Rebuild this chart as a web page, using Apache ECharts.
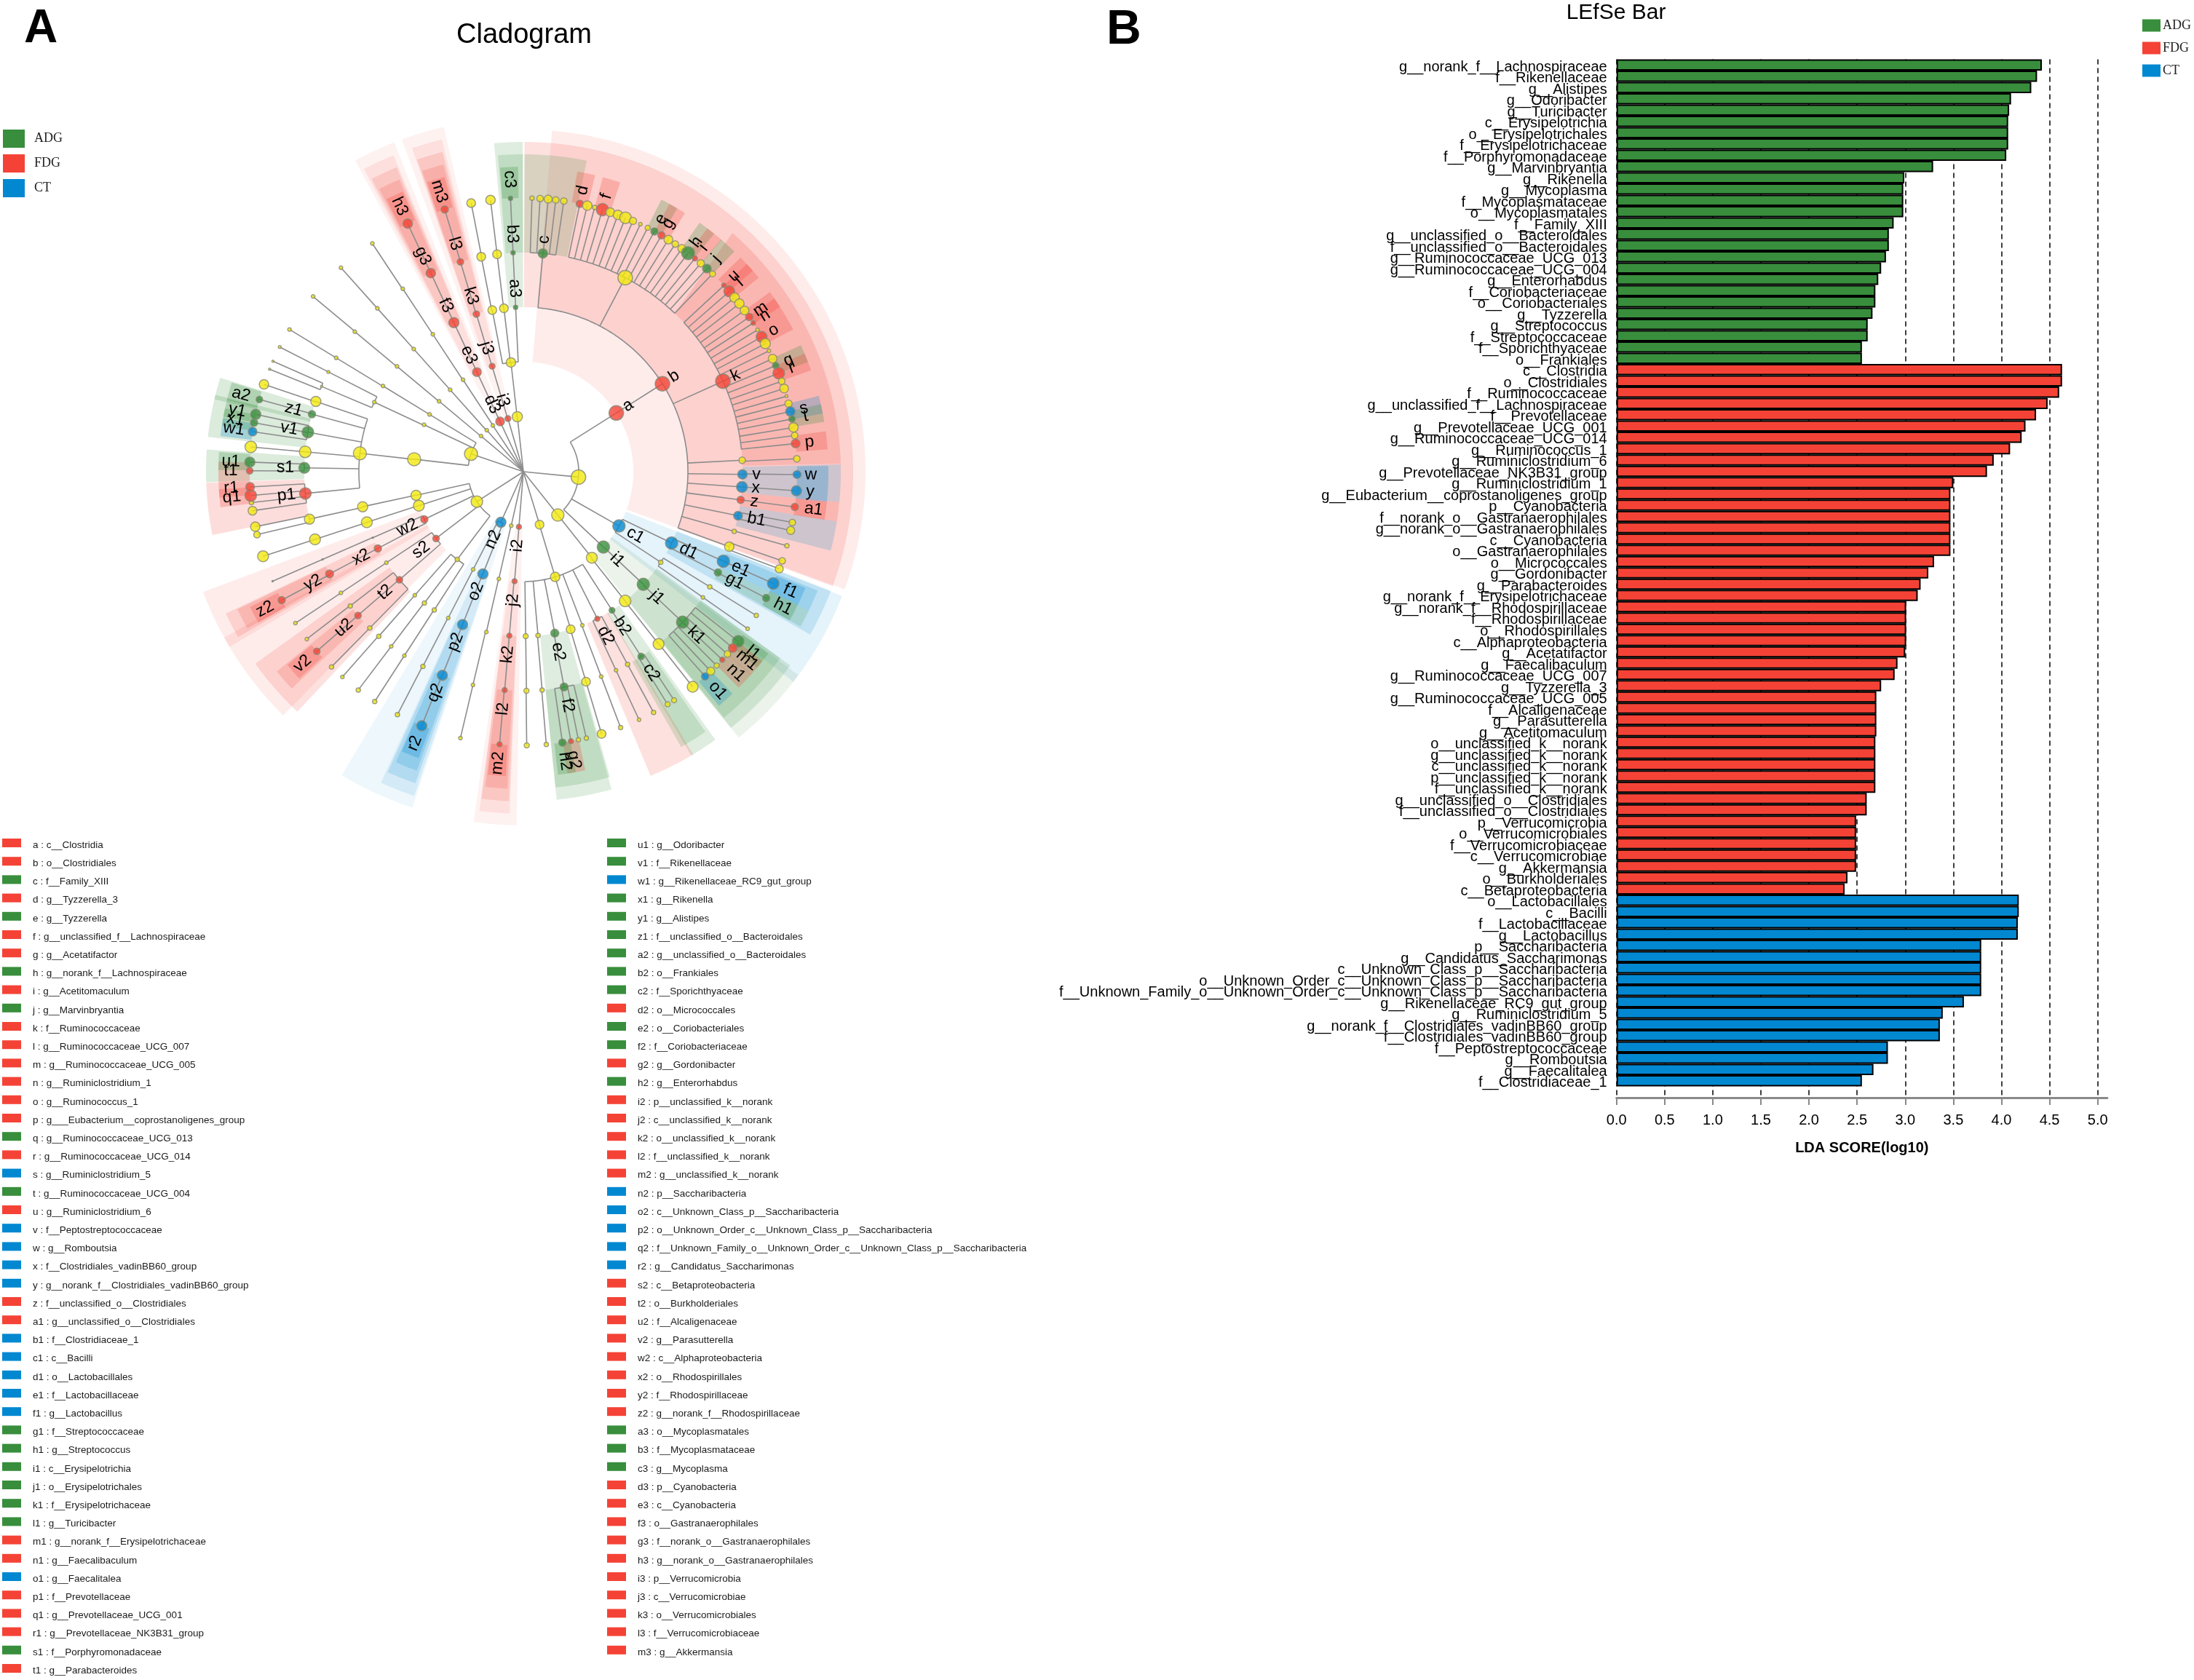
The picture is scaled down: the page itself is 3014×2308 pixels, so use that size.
<!DOCTYPE html>
<html><head><meta charset="utf-8">
<style>html,body{margin:0;padding:0;background:#fff}#c{width:3014px;height:2308px}</style>
<script src="https://cdn.jsdelivr.net/npm/echarts@6/dist/echarts.min.js"></script>
</head><body><div id="c"></div>
<script>
const groupNames = ['ADG','FDG','CT'];
const groupColors = {ADG:'#388E3C',FDG:'#F44336',CT:'#0288D1'};

// ---------- LEfSe bar ----------
const adgNames = ['g__norank_f__Lachnospiraceae','f__Rikenellaceae','g__Alistipes','g__Odoribacter','g__Turicibacter','c__Erysipelotrichia','o__Erysipelotrichales','f__Erysipelotrichaceae','f__Porphyromonadaceae','g__Marvinbryantia','g__Rikenella','g__Mycoplasma','f__Mycoplasmataceae','o__Mycoplasmatales','f__Family_XIII','g__unclassified_o__Bacteroidales','f__unclassified_o__Bacteroidales','g__Ruminococcaceae_UCG_013','g__Ruminococcaceae_UCG_004','g__Enterorhabdus','f__Coriobacteriaceae','o__Coriobacteriales','g__Tyzzerella','g__Streptococcus','f__Streptococcaceae','f__Sporichthyaceae','o__Frankiales'];
const adgValues = [4.42,4.37,4.31,4.10,4.08,4.07,4.07,4.07,4.05,3.29,2.99,2.98,2.98,2.98,2.88,2.83,2.83,2.80,2.75,2.72,2.69,2.69,2.66,2.61,2.61,2.55,2.55];
const fdgNames = ['c__Clostridia','o__Clostridiales','f__Ruminococcaceae','g__unclassified_f__Lachnospiraceae','f__Prevotellaceae','g__Prevotellaceae_UCG_001','g__Ruminococcaceae_UCG_014','g__Ruminococcus_1','g__Ruminiclostridium_6','g__Prevotellaceae_NK3B31_group','g__Ruminiclostridium_1','g__Eubacterium__coprostanoligenes_group','p__Cyanobacteria','f__norank_o__Gastranaerophilales','g__norank_o__Gastranaerophilales','c__Cyanobacteria','o__Gastranaerophilales','o__Micrococcales','g__Gordonibacter','g__Parabacteroides','g__norank_f__Erysipelotrichaceae','g__norank_f__Rhodospirillaceae','f__Rhodospirillaceae','o__Rhodospirillales','c__Alphaproteobacteria','g__Acetatifactor','g__Faecalibaculum','g__Ruminococcaceae_UCG_007','g__Tyzzerella_3','g__Ruminococcaceae_UCG_005','f__Alcaligenaceae','g__Parasutterella','g__Acetitomaculum','o__unclassified_k__norank','g__unclassified_k__norank','c__unclassified_k__norank','p__unclassified_k__norank','f__unclassified_k__norank','g__unclassified_o__Clostridiales','f__unclassified_o__Clostridiales','p__Verrucomicrobia','o__Verrucomicrobiales','f__Verrucomicrobiaceae','c__Verrucomicrobiae','g__Akkermansia','o__Burkholderiales','c__Betaproteobacteria'];
const fdgValues = [4.63,4.63,4.60,4.48,4.36,4.25,4.21,4.09,3.92,3.85,3.50,3.47,3.47,3.47,3.47,3.47,3.47,3.30,3.24,3.16,3.13,3.01,3.01,3.01,3.01,3.00,2.92,2.89,2.75,2.70,2.70,2.70,2.70,2.69,2.69,2.69,2.69,2.69,2.60,2.60,2.49,2.49,2.49,2.49,2.49,2.40,2.37];
const ctNames = ['o__Lactobacillales','c__Bacilli','f__Lactobacillaceae','g__Lactobacillus','p__Saccharibacteria','g__Candidatus_Saccharimonas','c__Unknown_Class_p__Saccharibacteria','o__Unknown_Order_c__Unknown_Class_p__Saccharibacteria','f__Unknown_Family_o__Unknown_Order_c__Unknown_Class_p__Saccharibacteria','g__Rikenellaceae_RC9_gut_group','g__Ruminiclostridium_5','g__norank_f__Clostridiales_vadinBB60_group','f__Clostridiales_vadinBB60_group','f__Peptostreptococcaceae','g__Romboutsia','g__Faecalitalea','f__Clostridiaceae_1'];
const ctValues = [4.18,4.18,4.17,4.17,3.79,3.79,3.79,3.79,3.79,3.61,3.39,3.36,3.36,2.82,2.82,2.67,2.55];

// ---------- Cladogram key (two columns) ----------
const keyColumn1 = [['a','c__Clostridia','r'],['b','o__Clostridiales','r'],['c','f__Family_XIII','g'],['d','g__Tyzzerella_3','r'],['e','g__Tyzzerella','g'],['f','g__unclassified_f__Lachnospiraceae','r'],['g','g__Acetatifactor','r'],['h','g__norank_f__Lachnospiraceae','g'],['i','g__Acetitomaculum','r'],['j','g__Marvinbryantia','g'],['k','f__Ruminococcaceae','r'],['l','g__Ruminococcaceae_UCG_007','r'],['m','g__Ruminococcaceae_UCG_005','r'],['n','g__Ruminiclostridium_1','r'],['o','g__Ruminococcus_1','r'],['p','g___Eubacterium__coprostanoligenes_group','r'],['q','g__Ruminococcaceae_UCG_013','g'],['r','g__Ruminococcaceae_UCG_014','r'],['s','g__Ruminiclostridium_5','b'],['t','g__Ruminococcaceae_UCG_004','g'],['u','g__Ruminiclostridium_6','r'],['v','f__Peptostreptococcaceae','b'],['w','g__Romboutsia','b'],['x','f__Clostridiales_vadinBB60_group','b'],['y','g__norank_f__Clostridiales_vadinBB60_group','b'],['z','f__unclassified_o__Clostridiales','r'],['a1','g__unclassified_o__Clostridiales','r'],['b1','f__Clostridiaceae_1','b'],['c1','c__Bacilli','b'],['d1','o__Lactobacillales','b'],['e1','f__Lactobacillaceae','b'],['f1','g__Lactobacillus','b'],['g1','f__Streptococcaceae','g'],['h1','g__Streptococcus','g'],['i1','c__Erysipelotrichia','g'],['j1','o__Erysipelotrichales','g'],['k1','f__Erysipelotrichaceae','g'],['l1','g__Turicibacter','g'],['m1','g__norank_f__Erysipelotrichaceae','r'],['n1','g__Faecalibaculum','r'],['o1','g__Faecalitalea','b'],['p1','f__Prevotellaceae','r'],['q1','g__Prevotellaceae_UCG_001','r'],['r1','g__Prevotellaceae_NK3B31_group','r'],['s1','f__Porphyromonadaceae','g'],['t1','g__Parabacteroides','r']];
const keyColumn2 = [['u1','g__Odoribacter','g'],['v1','f__Rikenellaceae','g'],['w1','g__Rikenellaceae_RC9_gut_group','b'],['x1','g__Rikenella','g'],['y1','g__Alistipes','g'],['z1','f__unclassified_o__Bacteroidales','g'],['a2','g__unclassified_o__Bacteroidales','g'],['b2','o__Frankiales','g'],['c2','f__Sporichthyaceae','g'],['d2','o__Micrococcales','r'],['e2','o__Coriobacteriales','g'],['f2','f__Coriobacteriaceae','g'],['g2','g__Gordonibacter','r'],['h2','g__Enterorhabdus','g'],['i2','p__unclassified_k__norank','r'],['j2','c__unclassified_k__norank','r'],['k2','o__unclassified_k__norank','r'],['l2','f__unclassified_k__norank','r'],['m2','g__unclassified_k__norank','r'],['n2','p__Saccharibacteria','b'],['o2','c__Unknown_Class_p__Saccharibacteria','b'],['p2','o__Unknown_Order_c__Unknown_Class_p__Saccharibacteria','b'],['q2','f__Unknown_Family_o__Unknown_Order_c__Unknown_Class_p__Saccharibacteria','b'],['r2','g__Candidatus_Saccharimonas','b'],['s2','c__Betaproteobacteria','r'],['t2','o__Burkholderiales','r'],['u2','f__Alcaligenaceae','r'],['v2','g__Parasutterella','r'],['w2','c__Alphaproteobacteria','r'],['x2','o__Rhodospirillales','r'],['y2','f__Rhodospirillaceae','r'],['z2','g__norank_f__Rhodospirillaceae','r'],['a3','o__Mycoplasmatales','g'],['b3','f__Mycoplasmataceae','g'],['c3','g__Mycoplasma','g'],['d3','p__Cyanobacteria','r'],['e3','c__Cyanobacteria','r'],['f3','o__Gastranaerophilales','r'],['g3','f__norank_o__Gastranaerophilales','r'],['h3','g__norank_o__Gastranaerophilales','r'],['i3','p__Verrucomicrobia','r'],['j3','c__Verrucomicrobiae','r'],['k3','o__Verrucomicrobiales','r'],['l3','f__Verrucomicrobiaceae','r'],['m3','g__Akkermansia','r']];

// ---------- Cladogram tree: depth-first rows [label, level, angle (deg clockwise from top), diameter, colour] ----------
const levelRadius = [0,76,151,226,301,376];
const treeRows = [
['',1,95.6,20,'y'],['a',2,57.7,20,'r'],['b',3,57.7,20,'r'],
['c',4,5.1,13,'g'],['',5,1.8,6,'y'],['',5,3.5,9,'y'],['',5,5.2,11,'y'],['',5,6.8,9,'y'],['',5,8.5,9,'y'],
['',4,27.7,20,'y'],['d',5,11.9,10,'r'],['',5,13.5,13,'y'],['',5,15.1,6,'y'],['f',5,16.8,17,'r'],['',5,18.5,12,'y'],['',5,20.2,13,'y'],['',5,21.9,16,'y'],['',5,23.6,10,'y'],['',5,25.3,5,'y'],['',5,27,7,'y'],['e',5,28.6,10,'g'],['g',5,30.3,10,'r'],['',5,32,12,'y'],['',5,33.7,9,'y'],['',5,35.4,11,'y'],['h',5,37,18,'g'],['i',5,38.8,7,'r'],['',5,40.4,10,'y'],['j',5,42.1,12,'g'],['',5,43.7,8,'y'],
['k',4,65.6,20,'r'],['u',5,47.1,6,'r'],['l',5,48.8,15,'r'],['',5,50.5,13,'y'],['',5,52.1,13,'y'],['',5,53.9,12,'y'],['m',5,55.6,10,'r'],['n',5,57.1,6,'r'],['',5,58.8,5,'y'],['o',5,60.5,15,'r'],['',5,62.1,14,'y'],['',5,63.8,5,'y'],['',5,65.6,12,'y'],['q',5,67.2,9,'g'],['r',5,68.9,16,'r'],['',5,70.7,9,'y'],['',5,72.3,12,'y'],['',5,74,4,'y'],['',5,75.6,10,'y'],['s',5,77.3,13,'b'],['t',5,78.9,9,'g'],['',5,80.7,13,'y'],['',5,82.4,9,'y'],['p',5,84.1,12,'r'],
['',4,87,9,'y'],['',5,87.3,9,'y'],
['v',4,90.7,13,'b'],['w',5,90.6,11,'b'],
['x',4,94,15,'b'],['y',5,94,14,'b'],
['z',4,97.4,10,'r'],['a1',5,97.4,10,'r'],
['b1',4,101.6,12,'b'],['',5,100.7,9,'y'],['',5,102.4,11,'y'],
['',4,105.8,6,'y'],['',5,105.7,6,'y'],
['',4,110,13,'y'],['',5,109,9,'y'],['',5,110.8,11,'y'],
['c1',2,119.6,17,'b'],['d1',3,115.7,17,'b'],['e1',4,114.1,17,'b'],['f1',5,114.1,16,'b'],['g1',4,117.4,10,'g'],['h1',5,117.5,10,'g'],
['',3,123.4,6,'y'],['',4,121.7,6,'y'],['',5,121.7,6,'y'],['',4,125,5,'y'],['',5,125,5,'y'],
['i1',2,133.3,17,'g'],['j1',3,133.2,17,'g'],['k1',4,133.4,17,'g'],['l1',5,128.3,16,'g'],['m1',5,130.1,12,'r'],['',5,131.8,9,'y'],['n1',5,133.4,7,'r'],['',5,135.1,7,'y'],['',5,136.8,11,'y'],['o1',5,138.4,10,'b'],
['',1,141.5,17,'y'],['',2,141.5,15,'y'],['',3,141.8,16,'y'],['',4,141.9,15,'y'],['',5,141.8,15,'y'],
['',1,163,12,'y'],['',2,163.2,13,'y'],
['b2',3,147.4,8,'g'],['c2',4,147.5,9,'g'],['',5,146.6,7,'y'],['',5,148.2,7,'y'],
['d2',3,153.3,7,'r'],['',4,151.6,6,'y'],['',5,151.6,6,'y'],['',4,155,5,'y'],['',5,155,5,'y'],
['',3,159,5,'y'],['',4,159.2,5,'y'],['',5,159.2,6,'y'],
['',3,163.3,12,'y'],['',4,163.4,12,'y'],['',5,163.4,12,'y'],
['e2',3,169,11,'g'],['f2',4,169.3,11,'g'],['',5,166.7,6,'y'],['',5,168.4,6,'y'],['g2',5,170,7,'r'],['h2',5,171.8,10,'g'],
['',3,174.9,6,'y'],['',4,175.1,6,'y'],['',5,175.2,6,'y'],
['',3,179.2,7,'y'],['',4,179.2,7,'y'],['',5,179.3,7,'y'],
['i2',1,184.6,7,'r'],['j2',2,184.6,7,'r'],['k2',3,184.9,7,'r'],['l2',4,184.9,7,'r'],['m2',5,185,7,'r'],
['',1,192.7,5,'y'],['',2,192.9,5,'y'],['',3,193,5,'y'],['',4,193.3,5,'y'],['',5,193.3,5,'y'],
['n2',1,204,14,'b'],['o2',2,201.6,14,'b'],['p2',3,201.7,14,'b'],['q2',4,201.7,14,'b'],['r2',5,201.8,14,'b'],
['',2,207.2,5,'y'],['',3,207.2,5,'y'],['',4,207.3,6,'y'],['',5,207.4,6,'y'],
['',1,237.2,16,'y'],
['',2,217,6,'y'],['',3,212.8,6,'y'],['',4,212.9,5,'y'],['',5,212.9,6,'y'],['',3,217,6,'y'],['',4,217.1,5,'y'],['',5,217.1,6,'y'],['',3,221.3,5,'y'],['',4,221.3,6,'y'],['',5,221.4,5,'y'],
['s2',2,232.6,9,'r'],['t2',3,228.9,9,'r'],['',4,224.5,6,'y'],['',5,224.5,6,'y'],['u2',4,229,9,'r'],['v2',5,229,9,'r'],['',4,232.2,6,'y'],['',5,232.3,5,'y'],
['',3,236.4,5,'y'],['',4,236.4,5,'y'],['',5,236.4,5,'y'],
['w2',2,244.3,10,'r'],['x2',3,242.2,10,'r'],['y2',4,242.2,11,'r'],['z2',5,242,10,'r'],['',3,246.3,2,'x'],['',4,246.4,2,'x'],['',5,246.4,2,'x'],
['',2,252,15,'y'],['',3,252.1,15,'y'],['',4,252,15,'y'],['',5,252,15,'y'],
['',2,257.6,14,'y'],['',3,257.7,14,'y'],['',4,257.5,14,'y'],['',5,258.4,13,'y'],['',5,256.7,9,'y'],
['',1,288.8,18,'y'],['',2,276.5,18,'y'],['',3,276.4,18,'y'],
['p1',4,264.3,16,'r'],['',5,261.8,12,'y'],['',5,263.5,6,'y'],['q1',5,265,16,'r'],['r1',5,266.8,12,'r'],
['s1',4,271,15,'g'],['t1',5,270.2,9,'r'],['u1',5,272,14,'g'],
['',4,275.2,16,'y'],['',5,275.2,16,'y'],
['v1',4,280.4,16,'g'],['w1',5,278.4,12,'b'],['x1',5,280.3,10,'g'],['y1',5,282.1,14,'g'],
['z1',4,285.2,10,'g'],['a2',5,285.3,9,'g'],
['',4,288.7,14,'y'],['',5,288.6,13,'y'],
['',2,295.3,5,'y'],['',3,295,5,'y'],['',4,292.9,3,'y'],['',5,292,3,'y'],['',5,293.8,3,'y'],['',4,297.1,4,'y'],['',5,297.1,4,'y'],
['',2,301.4,5,'y'],['',3,301.4,5,'y'],['',4,301.3,5,'y'],['',5,301.3,5,'y'],
['',1,310.1,5,'y'],['',2,309.9,5,'y'],['',3,309.8,5,'y'],['',4,309.7,5,'y'],['',5,309.8,5,'y'],
['',1,318.6,5,'y'],['',2,318.2,5,'y'],['',3,318.2,5,'y'],['',4,318.2,5,'y'],['',5,318.2,5,'y'],
['',1,326.5,5,'y'],['',2,326.7,5,'y'],['',3,326.6,5,'y'],['',4,326.6,5,'y'],['',5,326.5,5,'y'],
['d3',1,335.1,12,'r'],['e3',2,335,12,'r'],['f3',3,335,14,'r'],['g3',4,335,13,'r'],['h3',5,335,13,'r'],
['i3',1,343.8,8,'r'],['j3',2,343.5,8,'r'],['k3',3,343.4,9,'r'],['l3',4,343.3,9,'r'],['m3',5,343.3,10,'r'],
['',1,353.7,14,'y'],['',2,353.5,13,'y'],
['',3,349.1,12,'y'],['',4,348.9,12,'y'],['',5,349,12,'y'],
['',3,353.2,12,'y'],['',4,353.1,12,'y'],['',5,353.1,13,'y'],
['a3',3,357.3,6,'g'],['b3',4,357.3,6,'g'],['c3',5,357.3,6,'g']
];
// Clade shading spans: [label, startAngle, endAngle, (outer-edge start, outer-edge end)]
const shadeSpans = [['a',4.8,110.1],['b',0.2,110.3],['c',0.2,11.5],['k',43.7,88.5,41.2,88.6],['v',88.7,92.1],['x',92.1,95.5],['z',95.5,99],['b1',99,104.4],
['c1',111.3,127.9],['d1',111.2,119.6],['e1',112,116],['g1',116,119.2],['i1',126.5,141],['j1',126,141],['k1',126,140.8],
['b2',144.4,149.4],['c2',145,150.2],['d2',149,157.3],['e2',164.5,174.2],['f2',164.2,174.2],
['i2',181.1,188.1],['j2',182.3,187.4],['k2',182.5,187.3],['l2',182.9,186.9],
['n2',198.3,210.9],['o2',198.6,204.6],['p2',199.1,204.3],['q2',199.6,203.7],
['s2',224.6,241],['t2',223.3,234.4],['u2',226.9,231],['w2',239.2,249.4],['x2',239.9,244.5],['y2',240.4,244.3],
['p1',258.5,268],['s1',268.1,274],['v1',276.3,284],['z1',283.2,287.2],
['d3',331.6,338.6],['e3',332.2,337.7],['f3',332.6,337.4],['g3',333,337],
['i3',339.9,347],['j3',341,346.2],['k3',341.2,345.8],['l3',341.4,345.4],
['a3',354.9,359.9],['b3',355.4,359.9]];
const shadeOuter = [0,486,470,453,436,419];
const shadeAlpha = [0,0.07,0.1,0.16,0.18,0.26];
const genusHalfSpan = 1.7;

const nodeColor = {y:'#F3E80C',r:groupColors.FDG,g:groupColors.ADG,b:groupColors.CT,x:'#777777'};

// ---------- derive tree ----------
const nodes = []; const lastAt = [{level:0,r:0,children:[]}];
treeRows.forEach(function(t){
  const n = {label:t[0],level:t[1],angle:t[2],size:t[3],col:t[4],r:levelRadius[t[1]],children:[]};
  lastAt[t[1]-1].children.push(n); lastAt[t[1]] = n; n.parent = lastAt[t[1]-1]; nodes.push(n);
});
const branchSegments = [];
nodes.forEach(function(n){ branchSegments.push([n.parent.r,n.angle,n.r,n.angle]); });
nodes.forEach(function(n){
  if(n.children.length>1){
    const as = n.children.map(function(c){return c.angle;});
    branchSegments.push([n.r,Math.min.apply(null,as),n.r,Math.max.apply(null,as)]);
  }
});
const byLabel = {}; nodes.forEach(function(n){ if(n.label) byLabel[n.label]=n; });
const shadeRows = shadeSpans.map(function(s){
  const n = byLabel[s[0]];
  return {v:[n.r,shadeOuter[n.level],s[1],s[2],s[3]===undefined?s[1]:s[3],s[4]===undefined?s[2]:s[4]],col:nodeColor[n.col],a:shadeAlpha[n.level],level:n.level};
});
nodes.forEach(function(n){
  if(n.label && n.level===5){
    shadeRows.push({v:[n.r,shadeOuter[5],n.angle-genusHalfSpan,n.angle+genusHalfSpan,n.angle-genusHalfSpan,n.angle+genusHalfSpan],col:nodeColor[n.col],a:shadeAlpha[5],level:5});
  }
});
shadeRows.sort(function(p,q){return p.level-q.level;});
const labelled = nodes.filter(function(n){return n.label;});

function rgba(hex,a){const v=parseInt(hex.slice(1),16);return 'rgba('+(v>>16)+','+((v>>8)&255)+','+(v&255)+','+a+')';}

// ---------- key graphics ----------
const keyGraphic = [];
[[keyColumn1,3,26,45],[keyColumn2,834,26,876]].forEach(function(col){
  col[0].forEach(function(row,i){
    const y = 1152 + i*25.2;
    keyGraphic.push({type:'rect',left:col[1],top:y,shape:{width:col[2],height:12},style:{fill:nodeColor[row[2]]}});
    keyGraphic.push({type:'text',x:col[3],y:y+9,style:{text:row[0]+' : '+row[1],fontFamily:'"Liberation Sans"',fontSize:13.5,fill:'#1a1a1a',verticalAlign:'middle',align:'left'}});
  });
});

const allNames = adgNames.concat(fdgNames,ctNames,['']);
function pad(vals,before,total){const a=[];for(let i=0;i<total;i++){const j=i-before;a.push(j>=0&&j<vals.length?vals[j]:null);}return a;}
const total = allNames.length;
const barStyle = function(name){return {color:groupColors[name],borderColor:'#000',borderWidth:2};};

const chart = echarts.init(document.getElementById('c'),null,{renderer:'canvas'});
chart.setOption({
  animation:false,
  backgroundColor:'#fff',
  title:[
    {text:'A',left:33,top:8,padding:0,textStyle:{fontFamily:'"Liberation Sans"',fontWeight:'bold',fontSize:64,color:'#000'}},
    {text:'B',left:1520,top:9,padding:0,textStyle:{fontFamily:'"Liberation Sans"',fontWeight:'bold',fontSize:66,color:'#000'}},
    {text:'Cladogram',left:720,top:30,padding:0,textAlign:'center',textStyle:{fontFamily:'"Liberation Sans"',fontWeight:'normal',fontSize:38,color:'#000'}},
    {text:'LEfSe Bar',left:2220,top:3,padding:0,textAlign:'center',textStyle:{fontFamily:'"Liberation Sans"',fontWeight:'normal',fontSize:30,color:'#000'}}
  ],
  legend:[
    {data:groupNames,left:4,top:178,orient:'vertical',itemWidth:30,itemHeight:25,itemGap:9,padding:0,icon:'rect',selectedMode:false,itemStyle:{borderWidth:0},textStyle:{fontFamily:'"Liberation Serif"',fontSize:18,color:'#222',padding:[0,0,0,8]}},
    {data:groupNames,left:2943,top:26,orient:'vertical',itemWidth:25,itemHeight:17,itemGap:13,padding:0,icon:'rect',selectedMode:false,itemStyle:{borderWidth:0},textStyle:{fontFamily:'"Liberation Serif"',fontSize:18,color:'#222',padding:[0,0,0,-2]}}
  ],
  grid:{left:2220.7,top:81.4,width:674.2,bottom:800,containLabel:false},
  xAxis:{type:'value',min:0,max:5.1,interval:0.5,position:'bottom',
    axisLine:{show:true,lineStyle:{color:'#8a8a8a',width:3}},
    axisTick:{show:true,length:10,lineStyle:{color:'#8a8a8a',width:2}},
    axisLabel:{margin:21,showMaxLabel:false,fontFamily:'"Liberation Sans"',fontSize:20,color:'#000',formatter:function(v){return v.toFixed(1);}},
    splitLine:{show:true,showMaxLine:false,lineStyle:{color:'#000',width:1.5,type:[7,5]}},
    name:'LDA SCORE(log10)',nameLocation:'middle',nameGap:59,nameTextStyle:{fontFamily:'"Liberation Sans"',fontWeight:'bold',fontSize:20,color:'#000',verticalAlign:'top'}},
  yAxis:{type:'category',inverse:true,data:allNames,axisLine:{show:false},axisTick:{show:false},splitLine:{show:false},
    axisLabel:{interval:0,margin:13,verticalAlign:'top',lineHeight:6,fontFamily:'"Liberation Sans"',fontSize:20,color:'#000'}},
  polar:{center:[719,648],radius:500},
  radiusAxis:{type:'value',min:0,max:500,show:false},
  angleAxis:{type:'value',min:0,max:360,startAngle:90,clockwise:true,show:false},
  graphic:{elements:keyGraphic},
  series:[
    {name:'ADG',type:'bar',stack:'s',barCategoryGap:0,itemStyle:barStyle('ADG'),data:pad(adgValues,0,total),xAxisIndex:0,yAxisIndex:0},
    {name:'FDG',type:'bar',stack:'s',barCategoryGap:0,itemStyle:barStyle('FDG'),data:pad(fdgValues,adgValues.length,total)},
    {name:'CT',type:'bar',stack:'s',barCategoryGap:0,itemStyle:barStyle('CT'),data:pad(ctValues,adgValues.length+fdgValues.length,total)},
    {type:'custom',coordinateSystem:'polar',silent:true,z:1,clip:false,data:shadeRows.map(function(s){return s.v;}),
      renderItem:function(p,api){
        const s=shadeRows[p.dataIndex]; const r0=api.value(0),r1=api.value(1),a0=api.value(2),a1=api.value(3),o0=api.value(4),o1=api.value(5);
        const pts=[]; const n=Math.max(2,Math.ceil(Math.abs(a1-a0)/0.5));
        for(let i=0;i<=n;i++) pts.push(api.coord([r1,o0+(o1-o0)*i/n]));
        for(let i=n;i>=0;i--) pts.push(api.coord([r0,a0+(a1-a0)*i/n]));
        return {type:'polygon',shape:{points:pts},style:{fill:rgba(s.col,s.a)}};
      }},
    {type:'custom',coordinateSystem:'polar',silent:true,z:2,clip:false,data:branchSegments,
      renderItem:function(p,api){
        const r0=api.value(0),a0=api.value(1),r1=api.value(2),a1=api.value(3);
        const pts=[]; const n=Math.max(1,Math.ceil(Math.abs(a1-a0)/0.5));
        for(let i=0;i<=n;i++) pts.push(api.coord([r0+(r1-r0)*i/n,a0+(a1-a0)*i/n]));
        return {type:'polyline',shape:{points:pts},style:{fill:null,stroke:'#8c8c8c',lineWidth:1.6}};
      }},
    {type:'scatter',coordinateSystem:'polar',silent:true,z:3,clip:false,
      data:nodes.map(function(n){return {value:[n.r,n.angle],symbolSize:n.size,itemStyle:{color:nodeColor[n.col],borderColor:'#888878',borderWidth:1.5}};})},
    {type:'custom',coordinateSystem:'polar',silent:true,z:4,clip:false,data:labelled.map(function(n){return [n.r+19+7*(n.label.length-1),n.angle];}),
      renderItem:function(p,api){
        const c=api.coord([api.value(0),api.value(1)]); const ang=api.value(1);
        const deg = ang<=180 ? 90-ang : 270-ang;
        return {type:'text',x:c[0],y:c[1],rotation:deg*Math.PI/180,style:{text:labelled[p.dataIndex].label,fontFamily:'"Liberation Sans"',fontSize:23,fill:'#000',align:'center',verticalAlign:'middle'}};
      }}
  ]
});
</script></body></html>
